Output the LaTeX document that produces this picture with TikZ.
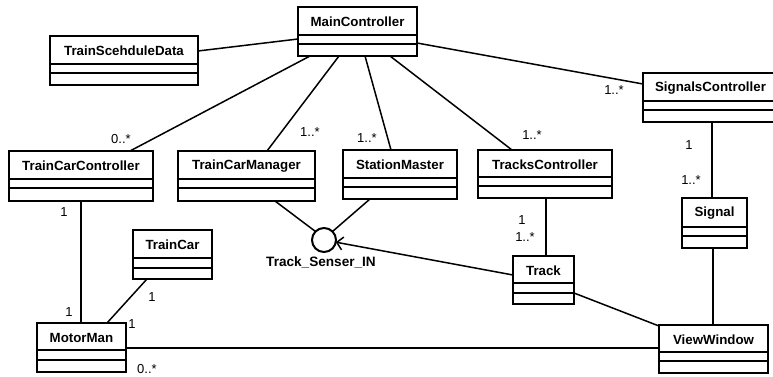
\documentclass[tikz,border=0pt]{standalone}
\usepackage{fontspec}
\setmainfont{Liberation Sans}
\usetikzlibrary{calc,arrows.meta}
\tikzset{
  clsbox/.style={draw=black,line width=2.2pt,inner sep=0pt,outer sep=0pt,fill=white},
  sepline/.style={line width=1.4pt},
  clstext/.style={font=\fontsize{13.3}{14}\selectfont\bfseries,inner sep=0pt},
  conn/.style={line width=1.5pt},
  mult/.style={font=\fontsize{13}{14}\selectfont,inner sep=0pt},
  iface/.style={circle,draw=black,line width=2pt,minimum size=24pt,inner sep=0pt,outer sep=0pt},
  ifacelabel/.style={font=\fontsize{13.6}{14}\selectfont\bfseries,inner sep=0pt}
}
\newcommand\umlcls[8]{%
  \pgfmathsetmacro\clsCX{(#2+#4)/2}%
  \pgfmathsetmacro\clsCY{(#3+#5)/2}%
  \pgfmathsetmacro\clsWW{#4-#2}%
  \pgfmathsetmacro\clsHH{#5-#3}%
  \pgfmathsetmacro\clsTY{(#3+#6)/2+1}%
  \node[clsbox,minimum width=\clsWW pt,minimum height=\clsHH pt] (#1) at (\clsCX,\clsCY) {};
  \draw[sepline] (#2,#6) -- (#4,#6) (#2,#7) -- (#4,#7);
  \node[clstext] (#1-t) at (\clsCX,\clsTY) {#8};
}
\begin{document}
\begin{tikzpicture}[x=1pt,y=-1pt]
\useasboundingbox[fill=white] (0,0) rectangle (773,377);

% connectors first (boxes drawn on top)
\coordinate (MCc) at (357.5,31.5);

% classes
\umlcls{MC}{298}{7}{417}{56}{35}{44}{MainController}
\umlcls{TSD}{50}{36}{198}{85}{64}{73}{TrainScehduleData}
\umlcls{SC}{643}{73}{778}{122}{101}{110}{SignalsController}
\umlcls{TCC}{9}{151}{153}{201}{179}{188}{TrainCarController}
\umlcls{TCM}{178}{151}{315}{201}{179}{188}{TrainCarManager}
\umlcls{SM}{343}{150}{457}{199}{178}{187}{StationMaster}
\umlcls{TkC}{478}{150}{612}{198}{177}{186}{TracksController}
\umlcls{Sig}{682}{198}{747}{248}{227}{236}{Signal}
\umlcls{TC}{133}{230}{212}{279}{258}{268}{TrainCar}
\umlcls{MM}{37}{323}{126}{372}{350}{360}{MotorMan}
\umlcls{Tk}{513}{256}{574}{304}{283}{293}{Track}
\umlcls{VW}{659}{325}{768}{373}{352}{361}{ViewWindow}

% interface
\node[iface] (circ) at (324,240) {};
\node[ifacelabel] (circl) at (321,262) {Track\_Senser\_IN};

% associations
\draw[conn] ($(TSD.north east)+(0,15)$) -- ($(MC.north west)+(0,32)$);
\draw[conn] ($(MC.north east)+(0,36)$) -- ($(SC.north west)+(0,11)$);
\draw[conn] ($(MC.south west)+(12,0)$) -- ($(TCC.north west)+(121,0)$);
\draw[conn] ($(MC.south west)+(41,0)$) -- ($(TCM.north west)+(89,0)$);
\draw[conn] ($(MC.south west)+(67,0)$) -- ($(SM.north west)+(48,0)$);
\draw[conn] ($(MC.south west)+(92,0)$) -- ($(TkC.north west)+(34,0)$);
\draw[conn] ($(SC.south west)+(69,0)$) -- ($(Sig.north west)+(30,0)$);
\draw[conn] ($(TkC.south west)+(68,0)$) -- ($(Tk.north west)+(33,0)$);
\draw[conn] ($(TCM.south west)+(97,0)$) -- (circ.135);
\draw[conn] ($(SM.south west)+(27,0)$) -- (circ.45);
\draw[conn,-{Straight Barb[length=6pt,width=13pt,line width=1.5pt]}] ($(Tk.north west)+(0,19)$) -- (circ);
\draw[conn] ($(Tk.north east)+(0,37)$) -- ($(VW.north west)+(0,1)$);
\draw[conn] ($(Sig.south west)+(31,0)$) -- ($(VW.north west)+(54,0)$);
\draw[conn] ($(MM.north east)+(0,25)$) -- ($(VW.north west)+(0,23)$);
\draw[conn] ($(TCC.south west)+(72,0)$) -- ($(MM.north west)+(44,0)$);
\draw[conn] ($(TC.south west)+(14,0)$) -- ($(MM.north west)+(70,0)$);

% multiplicities
\node[mult] (m1) at (121,139) {0..*};
\node[mult] (m2) at (310,132) {1..*};
\node[mult] (m3) at (367,138) {1..*};
\node[mult] (m4) at (532,135) {1..*};
\node[mult] (m5) at (614,90) {1..*};
\node[mult] (m6) at (689,145) {1};
\node[mult] (m7) at (691,180) {1..*};
\node[mult] (m8) at (522,220) {1};
\node[mult] (m9) at (525,237) {1..*};
\node[mult] (m10) at (64,212) {1};
\node[mult] (m11) at (69,312) {1};
\node[mult] (m12) at (152,297) {1};
\node[mult] (m13) at (132,324) {1};
\node[mult] (m14) at (147,369) {0..*};
\end{tikzpicture}
\end{document}
